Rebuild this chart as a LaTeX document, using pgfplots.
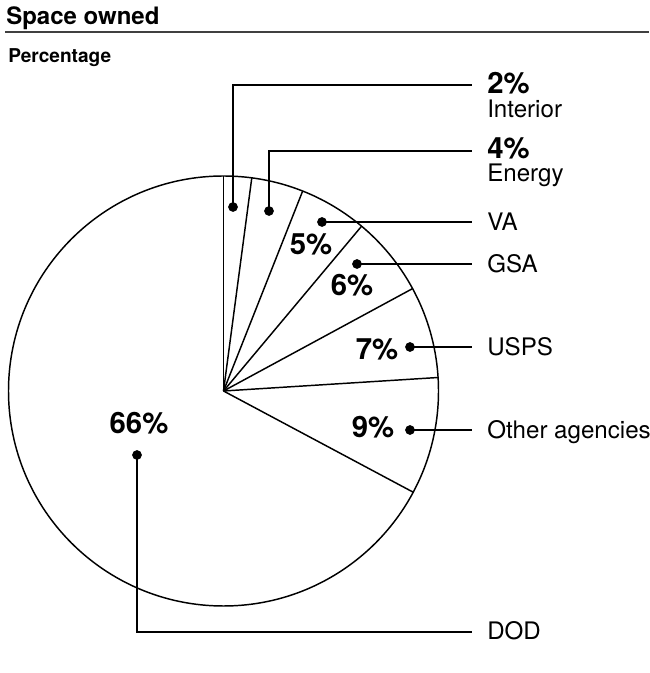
\documentclass[border=0pt]{standalone}
\usepackage{pgfplots}
\usepackage{pgfplotstable}
\pgfplotsset{compat=1.18}
\usepackage{fontspec}
\setmainfont{TeX Gyre Heros}

% slices clockwise from 12 o'clock: share (%) and cumulative share at the slice's end
\pgfplotstableread{
agency pct cum
Interior 2.1 2.1
Energy 3.9 6.0
VA 5.1 11.1
GSA 6.0 17.1
USPS 6.9 24.0
Other 8.8 32.8
DOD 67.2 100
}\piedata

\newcommand{\lbl}{\fontsize{18.1}{20}\selectfont}
\newcommand{\pct}{\fontsize{22}{24}\selectfont\bfseries}

\begin{document}
\begin{tikzpicture}
\begin{axis}[
  scale only axis, width=486.75pt, height=504.75pt,
  xmin=0, xmax=649, ymin=-673, ymax=0,
  hide axis, clip=false,
]
% pie outline
\draw[black, line width=1.1pt] (axis cs:223.5,-391) circle[radius=215];
% radial slice boundaries from the cumulative shares
\addplot[black, line width=1.1pt, quiver={
    u={215*cos(90-3.6*\thisrow{cum})},
    v={215*sin(90-3.6*\thisrow{cum})}}]
  table[x expr=223.5, y expr=-391] {\piedata};

% leader lines
\addplot[black, line width=1.1pt, mark=none] coordinates {(233,-207) (233,-85) (472,-85)};
\addplot[black, line width=1.1pt, mark=none] coordinates {(269,-211) (269,-151) (472,-151)};
\addplot[black, line width=1.1pt, mark=none] coordinates {(322,-222) (472,-222)};
\addplot[black, line width=1.1pt, mark=none] coordinates {(357,-264) (472,-264)};
\addplot[black, line width=1.1pt, mark=none] coordinates {(410,-347) (472,-347)};
\addplot[black, line width=1.1pt, mark=none] coordinates {(410,-430) (472,-430)};
\addplot[black, line width=1.1pt, mark=none] coordinates {(137,-455) (137,-632) (472,-632)};
% dots
\addplot[black, only marks, mark=*, mark size=3.4pt] coordinates {
  (233,-207) (269,-211) (322,-222) (357,-264) (410,-347) (410,-430) (137,-455)};

% title block
\node[anchor=base west, inner sep=0pt, font=\fontsize{18}{20}\selectfont\bfseries] at (axis cs:6,-25) {Space owned};
\draw[black!75, line width=1.4pt] (axis cs:5,-32) -- (axis cs:649,-32);
\node[anchor=base west, inner sep=0pt, font=\fontsize{14.3}{16}\selectfont\bfseries] at (axis cs:8,-63) {Percentage};

% right-hand labels
\node[anchor=base west, inner sep=0pt, font=\pct] at (axis cs:487,-94) {2\%};
\node[anchor=base west, inner sep=0pt, font=\lbl] at (axis cs:487,-118) {Interior};
\node[anchor=base west, inner sep=0pt, font=\pct] at (axis cs:487,-159) {4\%};
\node[anchor=base west, inner sep=0pt, font=\lbl] at (axis cs:487,-182) {Energy};
\node[anchor=base west, inner sep=0pt, font=\lbl] at (axis cs:487,-231) {VA};
\node[anchor=base west, inner sep=0pt, font=\lbl] at (axis cs:487,-273) {GSA};
\node[anchor=base west, inner sep=0pt, font=\lbl] at (axis cs:487,-356) {USPS};
\node[anchor=base west, inner sep=0pt, font=\lbl] at (axis cs:487,-439) {Other agencies};
\node[anchor=base west, inner sep=0pt, font=\lbl] at (axis cs:487,-640) {DOD};

% in-pie percentages
\node[anchor=base, inner sep=0pt, font=\pct] at (axis cs:311,-255) {5\%};
\node[anchor=base, inner sep=0pt, font=\pct] at (axis cs:352,-296) {6\%};
\node[anchor=base, inner sep=0pt, font=\pct] at (axis cs:377,-360) {7\%};
\node[anchor=base, inner sep=0pt, font=\pct] at (axis cs:373,-438) {9\%};
\node[anchor=base, inner sep=0pt, font=\pct] at (axis cs:139,-434) {66\%};
\end{axis}
\pgfresetboundingbox
\path (current axis.south west) rectangle (current axis.north east);
\end{tikzpicture}
\end{document}
